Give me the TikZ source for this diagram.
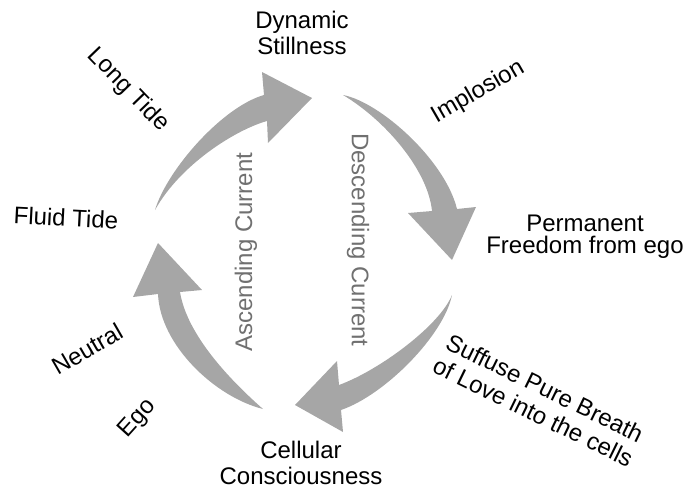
\documentclass[tikz,border=0pt]{standalone}
\usepackage{fontspec}
\setmainfont{Liberation Sans}

\tikzset{every picture/.style={line width=0.75pt}}
\tikzset{
  lbl/.style={font=\fontsize{18}{20}\selectfont, align=center, inner sep=0pt},
  currentlbl/.style={lbl, text={rgb, 255:red, 112; green, 112; blue, 112 }},
  flowarrow/.style={draw=none, fill={rgb, 255:red, 166; green, 166; blue, 166 }}
}

\begin{document}
\begin{tikzpicture}[x=0.75pt,y=0.75pt,yscale=-1,xscale=1]
\useasboundingbox (0,0) rectangle (686,493);

%Curved Arrow (ascending, upper part)
\path [flowarrow] (155,210) .. controls (167,170) and (222,107) .. (264,95) -- (262,72) -- (312,98) -- (268,143) -- (267,121) .. controls (235,130) and (180,165) .. (155,210) -- cycle ;

%Curved Arrow (descending, upper part)
\path [flowarrow] (343,95) .. controls (380,102) and (445,160) .. (457,209) -- (476,207) -- (452,260) -- (408,213) -- (432,211) .. controls (428,170) and (385,120) .. (343,95) -- cycle ;

%Curved Arrow (descending, lower part)
\path [flowarrow] (452,295) .. controls (444,335) and (385,395) .. (341,410) -- (343,432) -- (295,405) -- (337,361) -- (339,385) .. controls (380,370) and (440,325) .. (452,295) -- cycle ;

%Curved Arrow (ascending, lower part)
\path [flowarrow] (263,409) .. controls (215,397) and (160,345) .. (158,294) -- (133,297) -- (158,243) -- (202,290) -- (180,292) .. controls (187,335) and (230,380) .. (263,409) -- cycle ;

% Text Node
\node (dynamic) [lbl] at (302,33) {Dynamic\\Stillness};
% Text Node
\node (cellular) [lbl] at (301,463) {Cellular\\Consciousness};
% Text Node
\node (freedom) [lbl, font=\fontsize{18}{16.5}\selectfont] at (585,237) {Permanent\\Freedom from ego};
% Text Node
\node (fluid) [lbl, rotate=-3] at (66,218) {Fluid Tide};
% Text Node
\node (longtide) [lbl, rotate=-46] at (128,90) {Long Tide};
% Text Node
\node (implosion) [lbl, rotate=30] at (478,92) {Implosion};
% Text Node
\node (neutral) [lbl, rotate=30] at (87,349) {Neutral};
% Text Node
\node (ego) [lbl, rotate=48] at (138,419) {Ego};
% Text Node
\node (suffuse) [lbl, rotate=-26, font=\fontsize{18}{20}\selectfont] at (539,400) {Suffuse Pure Breath\\of Love into the cells};
% Text Node
\node (ascending) [currentlbl, rotate=90] at (246,252) {Ascending Current};
% Text Node
\node (descending) [currentlbl, rotate=-90] at (358,240) {Descending Current};

\end{tikzpicture}
\end{document}
